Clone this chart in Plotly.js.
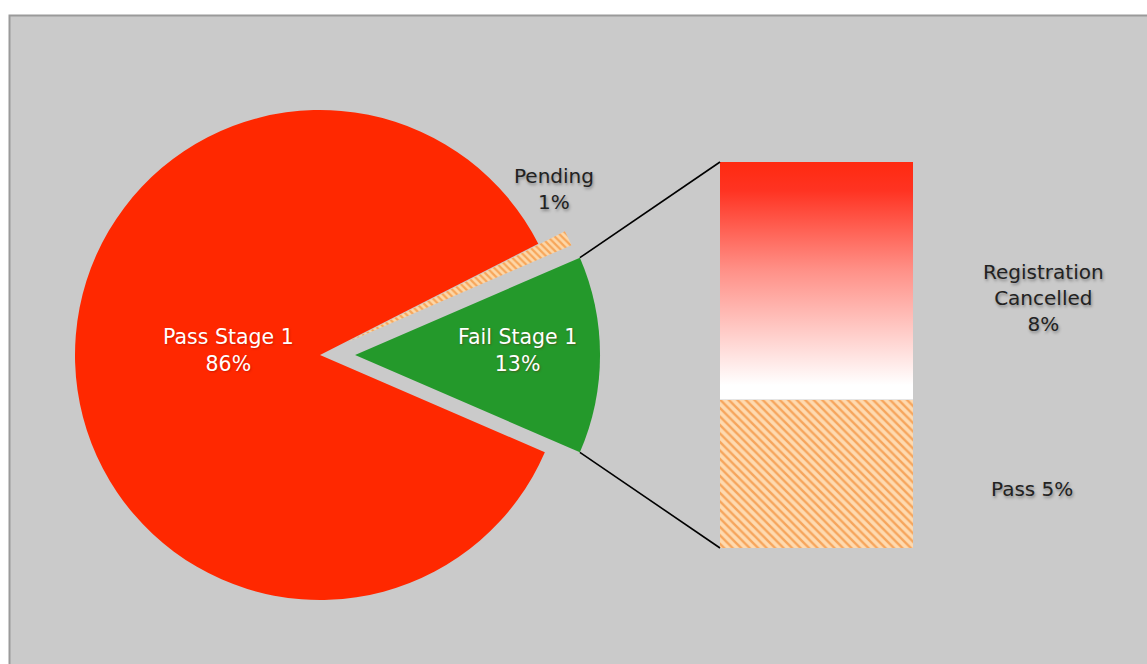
<!DOCTYPE html>
<html>
<head>
<meta charset="utf-8">
<script src="https://cdn.plot.ly/plotly-3.0.1.min.js"></script>
<style>html,body{margin:0;padding:0;background:#fff;}#chart{width:1147px;height:664px;}</style>
</head>
<body>
<div id="chart"></div>
<script>
// ---- data ----
const pieLabels = ['Fail Stage 1', 'Pending', 'Pass Stage 1'];
const pieValues = [13, 1, 86];
const barCategories = ['Fail Stage 1'];
const barLabels = ['Pass', 'Registration Cancelled'];
const passValues = [5];
const cancelledValues = [8];

// ---- geometry / styles ----
const W = 1147, H = 664;
const pcx = 320, pcy = 355, pr = 245;
const pulls = [0.143, 0.12, 0];
const maxPull = Math.max(...pulls);
const box = 2 * pr * (1 + maxPull);
const pieDomX = [(pcx - box / 2) / W, (pcx + box / 2) / W];
const pieDomY = [1 - (pcy + box / 2) / H, 1 - (pcy - box / 2) / H];

const total = pieValues.reduce((a, b) => a + b, 0);
const failHalf = pieValues[0] / total * 180; // degrees
const rotation = 90 - failHalf;

const barDomX = [720 / W, 913 / W];
const barDomY = [1 - 548 / H, 1 - 162 / H];
const stackTop = passValues[0] + cancelledValues[0];
const xr = [-0.5, 0.5];
const yr = [0, stackTop];

function px2paper(x, y) { return [x / W, 1 - y / H]; }
function barPaper(xv, yv) {
  return [barDomX[0] + (xv - xr[0]) / (xr[1] - xr[0]) * (barDomX[1] - barDomX[0]),
          barDomY[0] + (yv - yr[0]) / (yr[1] - yr[0]) * (barDomY[1] - barDomY[0])];
}

// fail slice corners (pixel)
const failApexX = pcx + pulls[0] * pr;
const a = failHalf * Math.PI / 180;
const failTop = px2paper(failApexX + pr * Math.cos(a), pcy - pr * Math.sin(a));
const failBot = px2paper(failApexX + pr * Math.cos(a), pcy + pr * Math.sin(a));
const barTL = barPaper(-0.5, stackTop);
const barBL = barPaper(-0.5, 0);

const pie = {
  type: 'pie',
  labels: pieLabels,
  values: pieValues,
  sort: false,
  direction: 'counterclockwise',
  rotation: rotation,
  pull: pulls,
  textinfo: 'none',
  hoverinfo: 'label+percent',
  showlegend: false,
  domain: {x: pieDomX, y: pieDomY},
  marker: {
    colors: ['#24992b', '#fdd3a0', '#ff2800'],
    line: {width: 0},
    pattern: {shape: ['', '\\', ''], fgcolor: '#f7a65a', bgcolor: '#fdd7a8', size: 5, solidity: 0.45}
  }
};

const barPass = {
  type: 'bar',
  x: [0],
  y: passValues,
  name: barLabels[0],
  width: [1],
  xaxis: 'x', yaxis: 'y',
  showlegend: false,
  marker: {color: '#fdd7a8', line: {width: 0},
    pattern: {shape: '\\', fgcolor: '#f6a55c', bgcolor: '#fedab0', size: 6, solidity: 0.4}}
};
const barCancel = {
  type: 'bar',
  x: [0],
  y: cancelledValues,
  name: barLabels[1],
  width: [1],
  xaxis: 'x', yaxis: 'y',
  showlegend: false,
  marker: {color: 'rgba(255,255,255,0)', line: {width: 0}}
};
const y0c = passValues[0], y1c = passValues[0] + cancelledValues[0];
const gradCancel = {
  type: 'scatter',
  mode: 'none',
  x: [xr[0], xr[1], xr[1], xr[0], xr[0]],
  y: [y0c, y0c, y1c, y1c, y0c],
  fill: 'toself',
  fillgradient: {type: 'vertical',
    colorscale: [[0, '#ffffff'], [0.06, '#ffffff'], [0.55, '#ff8f86'], [0.88, '#ff3322'], [1, '#ff2a10']]},
  hoverinfo: 'skip',
  showlegend: false,
  xaxis: 'x', yaxis: 'y'
};

const fontFam = '"DejaVu Sans", Verdana, sans-serif';
const darkFont = {family: fontFam, size: 20, color: '#222', shadow: '1px 2px 3px rgba(0,0,0,0.35)'};
const whiteFont = {family: fontFam, size: 20.5, color: '#ffffff', shadow: '1px 1px 2px rgba(120,0,0,0.35)'};
function ann(x, y, text, font) {
  const p = px2paper(x, y);
  return {xref: 'paper', yref: 'paper', x: p[0], y: p[1], text: text, showarrow: false,
          xanchor: 'center', yanchor: 'middle', font: font, align: 'center'};
}

const layout = {
  width: W, height: H,
  margin: {l: 0, r: 0, t: 0, b: 0},
  paper_bgcolor: '#ffffff',
  plot_bgcolor: 'rgba(0,0,0,0)',
  barmode: 'stack',
  bargap: 0,
  xaxis: {domain: barDomX, range: xr, visible: false, fixedrange: true},
  yaxis: {domain: barDomY, range: yr, visible: false, fixedrange: true},
  shapes: [
    {type: 'rect', xref: 'paper', yref: 'paper', x0: 9.5 / W, y0: -0.05, x1: 1.05, y1: 1 - 15.5 / H,
     fillcolor: '#cacaca', line: {color: '#9a9a9a', width: 2}, layer: 'below'},
    {type: 'line', xref: 'paper', yref: 'paper', x0: failTop[0], y0: failTop[1], x1: barTL[0], y1: barTL[1],
     line: {color: '#000', width: 1.6}},
    {type: 'line', xref: 'paper', yref: 'paper', x0: failBot[0], y0: failBot[1], x1: barBL[0], y1: barBL[1],
     line: {color: '#000', width: 1.6}}
  ],
  annotations: [
    ann(228, 350, pieLabels[2] + '<br>' + pieValues[2] + '%', whiteFont),
    ann(517, 350, pieLabels[0] + '<br>' + pieValues[0] + '%', whiteFont),
    ann(554, 189, pieLabels[1] + '<br>' + pieValues[1] + '%', darkFont),
    ann(1043, 298, 'Registration<br>Cancelled<br>' + cancelledValues[0] + '%', darkFont),
    ann(1032, 489, barLabels[0] + ' ' + passValues[0] + '%', darkFont)
  ]
};

Plotly.newPlot('chart', [barPass, barCancel, gradCancel, pie], layout, {displayModeBar: false, staticPlot: true});
</script>
</body>
</html>
